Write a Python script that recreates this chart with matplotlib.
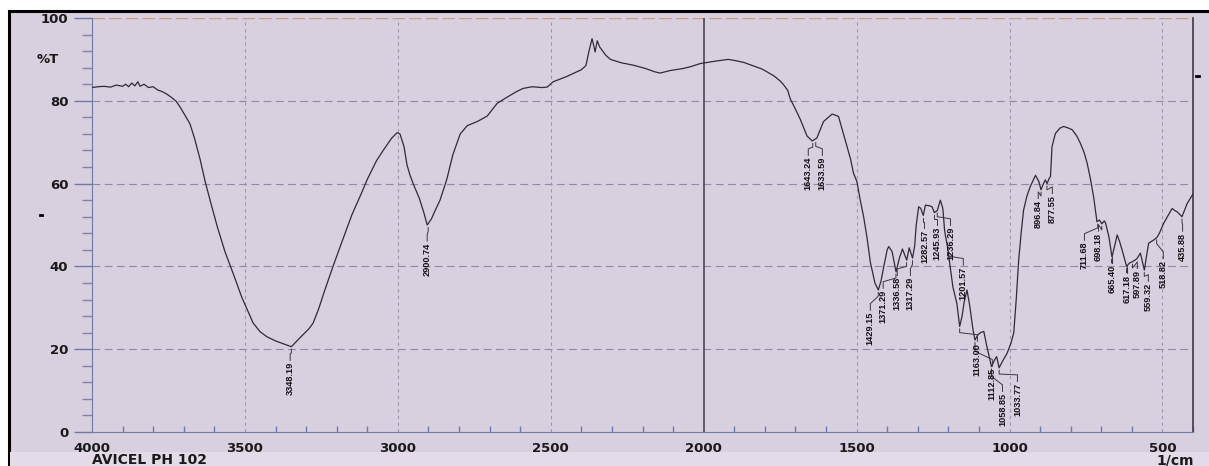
import matplotlib.pyplot as plt
from matplotlib.patches import Rectangle
from matplotlib.lines import Line2D

# spectrum (wavenumber 1/cm, %T)
wn = [4000, 3980, 3960, 3940, 3920, 3900, 3890, 3880, 3870, 3860, 3850, 3843, 3830, 3815,
      3800, 3785, 3770, 3755, 3740, 3725, 3712, 3700, 3680, 3665, 3647, 3630, 3614, 3590,
      3565, 3539, 3510, 3473, 3450, 3428, 3400, 3370, 3348, 3330, 3310, 3290, 3277, 3260,
      3240, 3212, 3180, 3150, 3120, 3100, 3070, 3048, 3020, 3002, 2993, 2980, 2970, 2960,
      2950, 2930, 2915, 2904, 2890, 2875, 2862, 2840, 2820, 2796, 2773, 2740, 2708, 2690,
      2675, 2640, 2610, 2590, 2560, 2530, 2512, 2492, 2450, 2400, 2385, 2375, 2365, 2360,
      2355, 2348, 2340, 2320, 2305, 2270, 2230, 2190, 2160, 2142, 2110, 2067, 2040, 2011,
      1960, 1920, 1903, 1870, 1840, 1810, 1793, 1770, 1750, 1740, 1725, 1717, 1700, 1684,
      1662, 1645, 1630, 1608, 1580, 1572, 1559, 1537, 1520, 1510, 1499, 1488, 1477, 1465,
      1455, 1440, 1429, 1420, 1411, 1400, 1395, 1384, 1371, 1360, 1350, 1336, 1328, 1317,
      1310, 1305, 1297, 1290, 1282, 1275, 1260, 1253, 1246, 1236, 1226, 1218, 1212, 1201,
      1194, 1185, 1172, 1163, 1155, 1148, 1139, 1130, 1120, 1113, 1103, 1095, 1084, 1075,
      1059, 1048, 1042, 1034, 1025, 1008, 995, 986, 978, 970, 962, 954, 943, 932, 915, 904,
      897, 890, 883, 877, 870, 866, 861, 850, 835, 823, 810, 795, 780, 768, 756, 746, 735,
      725, 714, 706, 698, 690, 686, 675, 665, 656, 648, 640, 632, 617, 608, 599, 590, 583,
      572, 565, 559, 552, 545, 528, 518, 510, 496, 480, 468, 460, 452, 436, 428, 419, 410,
      403, 400]
trans = [83.2, 83.4, 83.5, 83.3, 83.8, 83.5, 84.0, 83.4, 84.3, 83.6, 84.6, 83.5, 84.0, 83.2,
         83.4, 82.6, 82.2, 81.6, 80.8, 79.9, 78.5, 77.0, 74.5, 71.0, 66.0, 60.5, 56.0, 49.5,
         43.5, 38.4, 32.5, 26.3, 24.2, 23.0, 22.0, 21.2, 20.6, 22.0, 23.5, 25.0, 26.3, 29.5,
         34.0, 40.0, 46.5, 52.5, 57.5, 61.0, 65.5, 68.0, 71.0, 72.3, 72.0, 69.0, 64.5, 62.0,
         60.0, 56.5, 53.0, 50.0, 51.5, 54.0, 56.0, 61.0, 67.0, 72.0, 74.0, 75.0, 76.3, 78.0,
         79.4, 81.0, 82.3, 83.0, 83.4, 83.2, 83.3, 84.6, 85.8, 87.5, 88.5, 92.0, 95.0, 93.5,
         91.8, 94.5, 93.0, 91.0, 90.0, 89.2, 88.6, 87.8, 87.0, 86.7, 87.3, 87.8, 88.3, 89.0,
         89.6, 90.0, 89.8, 89.3, 88.5, 87.7, 87.0, 86.0, 84.8, 84.0, 82.5, 80.5, 78.0, 75.5,
         71.5, 70.3, 71.0, 75.0, 76.8, 76.6, 76.2, 70.5, 66.0, 62.5, 60.5, 56.0, 52.0, 46.5,
         41.0, 36.0, 34.3, 36.5, 40.0, 44.0, 44.8, 43.6, 38.7, 42.0, 44.2, 41.5, 44.5, 42.0,
         45.0, 50.0, 54.4, 54.0, 52.3, 54.8, 54.6, 54.4, 53.0, 53.5, 56.0, 54.0, 48.5, 44.0,
         39.9, 35.0, 31.0, 25.5, 28.0, 31.5, 34.3, 30.5, 25.0, 22.2, 23.5, 24.0, 24.3, 21.0,
         15.8, 17.5, 18.2, 15.5, 16.8, 19.0, 21.5, 24.0, 32.0, 41.5, 48.0, 53.6, 57.0, 59.3,
         62.0, 60.5, 58.5, 59.8, 60.9, 60.0, 61.3, 61.7, 68.9, 72.1, 73.4, 73.8, 73.5, 73.0,
         71.5, 69.7, 67.5, 64.9, 61.0, 56.8, 50.8, 51.2, 50.3, 51.0, 50.5, 47.2, 42.3, 45.0,
         47.6, 46.0, 44.0, 40.0, 40.8, 41.1, 41.5, 41.9, 43.2, 41.0, 39.1, 42.5, 45.6, 46.4,
         47.0, 48.0, 50.4, 52.5, 54.0, 53.5, 53.2, 52.0, 53.5, 55.2, 56.3, 57.2, 57.5]

# picked peaks
peak_names = ["3348.19", "2900.74", "1643.24", "1633.59", "1429.15", "1371.29", "1336.58",
              "1317.29", "1282.57", "1245.93", "1236.29", "1201.57", "1163.00", "1112.85",
              "1058.85", "1033.77", "896.84", "877.55", "711.68", "698.18", "665.40",
              "617.18", "597.89", "559.32", "518.82", "435.88"]
peak_t = [20.6, 50.0, 70.3, 70.5, 34.3, 38.7, 41.5, 42.0, 52.3, 53.0, 53.5, 44.0, 25.5, 22.2,
          15.8, 15.5, 58.5, 60.0, 50.8, 50.3, 42.3, 40.0, 41.1, 39.1, 47.0, 52.0]

# where each peak label sits (x in 1/cm, top of text in %T)
label_x = [3352, 2904, 1658, 1612, 1455, 1413, 1367, 1324, 1278, 1236, 1193, 1151, 1105,
           1056, 1023, 974, 906, 860, 755, 709, 663, 614, 582, 546, 497, 434]
label_top = [16.9, 45.7, 66.4, 66.4, 29.0, 34.3, 37.4, 37.4, 48.8, 49.5, 49.5, 39.9, 21.5,
             15.5, 9.4, 11.8, 56.0, 57.2, 45.9, 48.1, 40.3, 37.9, 39.1, 36.0, 41.5, 48.1]

paper = "#d8cfdf"
W, H = 1209, 466
fig = plt.figure(figsize=(W / 100, H / 100), dpi=100)
fig.patch.set_facecolor("white")
fig.add_artist(Rectangle((9 / W, -0.05), 1.1, 1.05 - 11 / H, transform=fig.transFigure,
                         facecolor=paper, edgecolor="black", lw=2.2, zorder=-10))
fig.add_artist(Rectangle((10 / W, 0), 1.0, 14 / H, transform=fig.transFigure,
                         facecolor="#e3dce8", edgecolor="none", zorder=-9))

ax = fig.add_axes([92 / W, 1 - 432 / H, 1101 / W, 414 / H])
ax.patch.set_alpha(0)
ax.set_xlim(4000, 400)
ax.set_ylim(0, 100)

for y in [20, 40, 60, 80]:
    ax.axhline(y, color="#8f8aa8", lw=0.8, dashes=(7, 4), zorder=1)
ax.axhline(100, color="#c4a27e", lw=1.0, dashes=(9, 3), zorder=1)
for x in [3500, 3000, 2500, 1500, 1000, 500]:
    ax.axvline(x, color="#9c97aa", lw=0.8, dashes=(3, 3), zorder=1)
ax.axvline(2000, color="#4a4650", lw=1.2, zorder=1)

ax.plot(wn, trans, color="#2e2c33", lw=0.9, zorder=3)

for name, pt, lx, lt, pk in zip(peak_names, peak_t, label_x, label_top,
                                [float(n) for n in peak_names]):
    bend = min(pt - 1.5, lt + 4.0)
    ax.plot([pk, pk, lx, lx], [pt - 0.6, bend, lt + 2.0, lt + 0.4],
            color="#3a3840", lw=0.7, zorder=3)
    ax.text(lx, lt, name, rotation=90, ha="center", va="top", fontsize=6.6,
            fontweight="bold", family=["Liberation Sans", "DejaVu Sans"],
            color="#141316", zorder=4)

ax.spines["top"].set_visible(False)
ax.spines["left"].set_color("#6d7ca6")
ax.spines["bottom"].set_color("#6d7ca6")
ax.spines["right"].set_color("#4a4650")
ax.spines["right"].set_linewidth(1.3)

ax.set_yticks(range(0, 101, 20))
ax.set_yticks(range(0, 101, 4), minor=True)
ax.set_xticks(range(4000, 499, -500))
ax.set_xticks(range(4000, 399, -100), minor=True)
ax.tick_params(axis="y", which="major", direction="out", length=13, width=1.0,
               color="#6d7ca6", pad=4, labelsize=9.5)
ax.tick_params(axis="y", which="minor", direction="out", length=7, width=1.0,
               color="#8a7fa8")
ax.tick_params(axis="x", which="major", direction="in", length=0, pad=7, labelsize=9.5)
ax.tick_params(axis="x", which="minor", direction="in", length=4, width=1.0,
               color="#6d7ca6")
for lab in ax.get_xticklabels() + ax.get_yticklabels():
    lab.set_fontweight("bold")
    lab.set_color("#1a1a1a")

fig.text(48 / W, 1 - 60 / H, "%T", ha="center", va="center", fontsize=9.5,
         fontweight="bold", color="#1a1a1a")
fig.text(92 / W, 1 - 460 / H, "AVICEL PH 102", ha="left", va="center", fontsize=10,
         fontweight="bold", color="#1a1a1a")
fig.text(1194 / W, 1 - 460 / H, "1/cm", ha="right", va="center", fontsize=10,
         fontweight="bold", color="#1a1a1a")
fig.add_artist(Line2D([1196 / W, 1199 / W], [1 - 76 / H, 1 - 76 / H], color="black", lw=2))
fig.add_artist(Line2D([40 / W, 42 / W], [1 - 215 / H, 1 - 215 / H], color="black", lw=2))

plt.savefig("out.png", dpi=100)
